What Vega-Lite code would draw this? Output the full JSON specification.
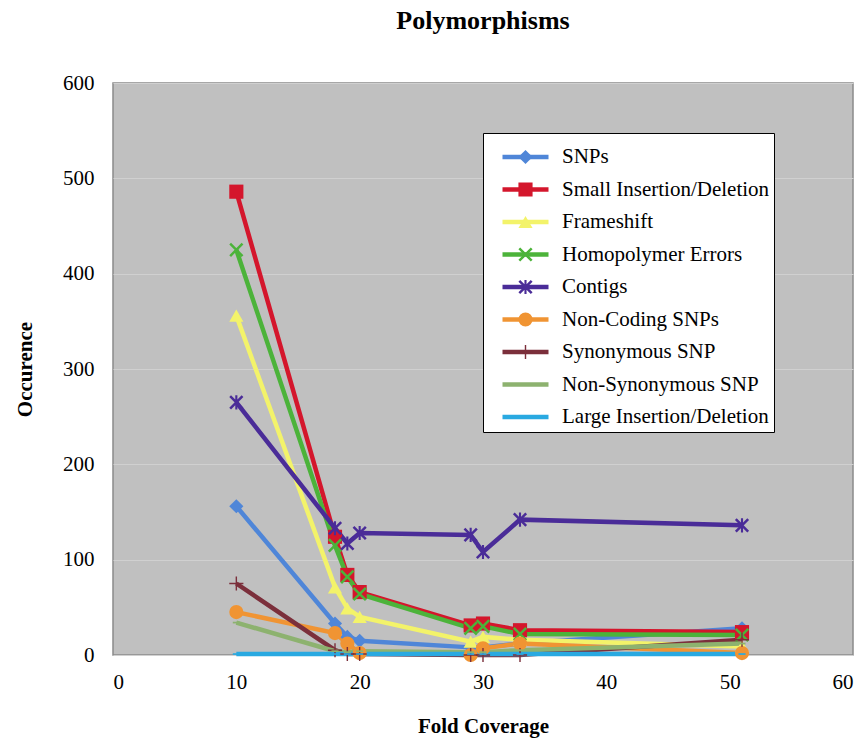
{
  "$schema": "https://vega.github.io/schema/vega-lite/v6.json",
  "width": 740,
  "height": 572,
  "autosize": "none",
  "padding": {"left": 113, "top": 83, "right": 12, "bottom": 84},
  "background": "white",
  "title": {"text": "Polymorphisms", "font": "Liberation Serif", "fontSize": 26, "fontWeight": "bold", "anchor": "middle", "offset": 38, "color": "black"},
  "config": {
    "view": {"fill": "#c0c0c0", "stroke": "#8a8a8a", "strokeWidth": 1.5},
    "axis": {"labelFont": "Liberation Serif", "labelFontSize": 21, "labelColor": "black", "titleFont": "Liberation Serif", "titleFontSize": 21, "titleFontWeight": "bold", "titleColor": "black", "ticks": false, "domain": false, "gridColor": "#d0d0d0", "gridWidth": 1}
  },
  "data": {"values": [
    {"series": "SNPs", "x": 10, "y": 156}, {"series": "SNPs", "x": 18, "y": 33}, {"series": "SNPs", "x": 19, "y": 19}, {"series": "SNPs", "x": 20, "y": 15}, {"series": "SNPs", "x": 29, "y": 8}, {"series": "SNPs", "x": 30, "y": 8}, {"series": "SNPs", "x": 33, "y": 12}, {"series": "SNPs", "x": 51, "y": 28},
    {"series": "Small Insertion/Deletion", "x": 10, "y": 486}, {"series": "Small Insertion/Deletion", "x": 18, "y": 124}, {"series": "Small Insertion/Deletion", "x": 19, "y": 84}, {"series": "Small Insertion/Deletion", "x": 20, "y": 66}, {"series": "Small Insertion/Deletion", "x": 29, "y": 31}, {"series": "Small Insertion/Deletion", "x": 30, "y": 33}, {"series": "Small Insertion/Deletion", "x": 33, "y": 26}, {"series": "Small Insertion/Deletion", "x": 51, "y": 24},
    {"series": "Frameshift", "x": 10, "y": 356}, {"series": "Frameshift", "x": 18, "y": 71}, {"series": "Frameshift", "x": 19, "y": 49}, {"series": "Frameshift", "x": 20, "y": 40}, {"series": "Frameshift", "x": 29, "y": 14}, {"series": "Frameshift", "x": 30, "y": 19}, {"series": "Frameshift", "x": 33, "y": 16}, {"series": "Frameshift", "x": 51, "y": 9},
    {"series": "Homopolymer Errors", "x": 10, "y": 425}, {"series": "Homopolymer Errors", "x": 18, "y": 115}, {"series": "Homopolymer Errors", "x": 19, "y": 82}, {"series": "Homopolymer Errors", "x": 20, "y": 64}, {"series": "Homopolymer Errors", "x": 29, "y": 28}, {"series": "Homopolymer Errors", "x": 30, "y": 30}, {"series": "Homopolymer Errors", "x": 33, "y": 22}, {"series": "Homopolymer Errors", "x": 51, "y": 21},
    {"series": "Contigs", "x": 10, "y": 265}, {"series": "Contigs", "x": 18, "y": 133}, {"series": "Contigs", "x": 19, "y": 117}, {"series": "Contigs", "x": 20, "y": 128}, {"series": "Contigs", "x": 29, "y": 126}, {"series": "Contigs", "x": 30, "y": 108}, {"series": "Contigs", "x": 33, "y": 142}, {"series": "Contigs", "x": 51, "y": 136},
    {"series": "Non-Coding SNPs", "x": 10, "y": 45}, {"series": "Non-Coding SNPs", "x": 18, "y": 23}, {"series": "Non-Coding SNPs", "x": 19, "y": 12}, {"series": "Non-Coding SNPs", "x": 20, "y": 2}, {"series": "Non-Coding SNPs", "x": 29, "y": 0}, {"series": "Non-Coding SNPs", "x": 30, "y": 7}, {"series": "Non-Coding SNPs", "x": 33, "y": 12}, {"series": "Non-Coding SNPs", "x": 51, "y": 2},
    {"series": "Synonymous SNP", "x": 10, "y": 75}, {"series": "Synonymous SNP", "x": 18, "y": 5}, {"series": "Synonymous SNP", "x": 19, "y": 1}, {"series": "Synonymous SNP", "x": 20, "y": 1}, {"series": "Synonymous SNP", "x": 29, "y": 0}, {"series": "Synonymous SNP", "x": 30, "y": 0}, {"series": "Synonymous SNP", "x": 33, "y": 0}, {"series": "Synonymous SNP", "x": 51, "y": 16},
    {"series": "Non-Synonymous SNP", "x": 10, "y": 34}, {"series": "Non-Synonymous SNP", "x": 18, "y": 4}, {"series": "Non-Synonymous SNP", "x": 19, "y": 3}, {"series": "Non-Synonymous SNP", "x": 20, "y": 4}, {"series": "Non-Synonymous SNP", "x": 29, "y": 3}, {"series": "Non-Synonymous SNP", "x": 30, "y": 3}, {"series": "Non-Synonymous SNP", "x": 33, "y": 5}, {"series": "Non-Synonymous SNP", "x": 51, "y": 12},
    {"series": "Large Insertion/Deletion", "x": 10, "y": 1}, {"series": "Large Insertion/Deletion", "x": 18, "y": 1}, {"series": "Large Insertion/Deletion", "x": 19, "y": 1}, {"series": "Large Insertion/Deletion", "x": 20, "y": 1}, {"series": "Large Insertion/Deletion", "x": 29, "y": 1}, {"series": "Large Insertion/Deletion", "x": 30, "y": 1}, {"series": "Large Insertion/Deletion", "x": 33, "y": 1}, {"series": "Large Insertion/Deletion", "x": 51, "y": 1}
  ]},
  "encoding": {
    "x": {"field": "x", "type": "quantitative", "scale": {"domain": [0, 60], "nice": false}, "axis": {"values": [0, 10, 20, 30, 40, 50, 60], "title": "Fold Coverage", "labelPadding": 16, "titlePadding": 23, "grid": false}},
    "y": {"field": "y", "type": "quantitative", "scale": {"domain": [0, 600], "nice": false}, "axis": {"values": [0, 100, 200, 300, 400, 500, 600], "title": "Occurence", "labelPadding": 19, "titlePadding": 27, "grid": true}}
  },
  "layer": [
    {
      "mark": {"type": "line", "strokeWidth": 4.5, "interpolate": "linear"},
      "encoding": {
        "stroke": {"field": "series", "type": "nominal",
          "scale": {"domain": ["SNPs", "Small Insertion/Deletion", "Frameshift", "Homopolymer Errors", "Contigs", "Non-Coding SNPs", "Synonymous SNP", "Non-Synonymous SNP", "Large Insertion/Deletion"],
                    "range": ["#4f86d8", "#d4162c", "#f3f36a", "#4cb33a", "#4a2c98", "#f09433", "#7b2f3b", "#8db26f", "#29a9e1"]},
          "legend": {"title": " ", "orient": "none", "legendX": 370, "legendY": 50, "fillColor": "white", "strokeColor": "black", "padding": 4, "titleFontSize": 5, "titlePadding": 4, "labelFont": "Liberation Serif", "labelFontSize": 21, "labelColor": "black", "labelLimit": 320, "symbolType": "stroke", "symbolSize": 2116, "symbolStrokeWidth": 4.5, "symbolOffset": 13, "labelOffset": 11, "clipHeight": 22, "rowPadding": 10.5}
        }
      }
    },
    {
      "mark": {"type": "point", "filled": true, "opacity": 1, "size": 200},
      "encoding": {
        "fill": {"field": "series", "type": "nominal",
          "scale": {"domain": ["SNPs", "Small Insertion/Deletion", "Frameshift", "Homopolymer Errors", "Contigs", "Non-Coding SNPs", "Synonymous SNP", "Non-Synonymous SNP", "Large Insertion/Deletion"],
                    "range": ["#4f86d8", "#d4162c", "#f3f36a", "#4cb33a", "#4a2c98", "#f09433", "#7b2f3b", "#8db26f", "#29a9e1"]},
          "legend": {"title": " ", "orient": "none", "legendX": 370, "legendY": 50, "padding": 4, "titleFontSize": 5, "titlePadding": 4, "labelFont": "Liberation Serif", "labelFontSize": 21, "labelExpr": "''", "symbolSize": 200, "symbolStrokeWidth": 0, "symbolOffset": 28, "labelOffset": 11, "clipHeight": 22, "rowPadding": 10.5}
        },
        "shape": {"field": "series", "type": "nominal",
          "scale": {"domain": ["SNPs", "Small Insertion/Deletion", "Frameshift", "Homopolymer Errors", "Contigs", "Non-Coding SNPs", "Synonymous SNP", "Non-Synonymous SNP", "Large Insertion/Deletion"],
                    "range": ["diamond", "square", "triangle-up", "M-0.75,-1L1,0.75L0.75,1L-1,-0.75Z M0.75,-1L1,-0.75L-0.75,1L-1,0.75Z", "M-0.75,-1L1,0.75L0.75,1L-1,-0.75Z M0.75,-1L1,-0.75L-0.75,1L-1,0.75Z M-0.15,-1H0.15V1H-0.15Z", "circle", "M-1,-0.1H1V0.1H-1Z M-0.1,-1H0.1V1H-0.1Z", "M-0.5,-0.12H0.5V0.12H-0.5Z", "M-0.5,-0.12H0.5V0.12H-0.5Z"]},
          "legend": {"title": " ", "orient": "none", "legendX": 370, "legendY": 50, "padding": 4, "titleFontSize": 5, "titlePadding": 4, "labelFont": "Liberation Serif", "labelFontSize": 21, "labelExpr": "''", "symbolSize": 200, "symbolStrokeWidth": 0, "symbolOffset": 28, "labelOffset": 11, "clipHeight": 22, "rowPadding": 10.5}
        }
      }
    }
  ],
  "resolve": {"legend": {"fill": "independent", "shape": "independent"}}
}
